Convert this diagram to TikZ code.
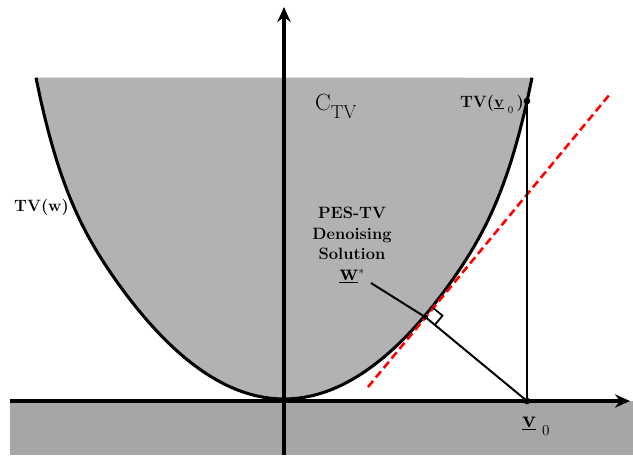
\documentclass[tikz,border=0pt]{standalone}
\usetikzlibrary{arrows.meta,calc}
\tikzset{
	axis/.style = {line width = 2.6pt, -{Stealth[length = 4.5mm, width = 4mm]}},
	bdry/.style = {line width = 2.6pt},
	thinline/.style = {line width = 1.7pt},
	tangent/.style = {red, line width = 2.2pt, dash pattern = on 2.4mm off 1.3mm},
	lbl/.style = {font = \fontsize{14}{17.5}\selectfont\bfseries, inner sep = 0pt}
}
% TV(w) boundary: quadratic near the origin, steeper towards the top
\newcommand{\tvcurve}{plot [domain = -24.8:24.8, samples = 121, smooth] (284+10*\x, {399-0.42*\x*\x-0.0105*max(0,abs(\x)-16)^4})}
\begin{document}
\begin{tikzpicture}[x = 0.3mm, y = -0.3mm]
	\useasboundingbox (0,0) rectangle (633,455);
	% shaded half plane and epigraph
	\fill [black!35] (10,401) rectangle (633,455);
	\fill [black!30] \tvcurve -- cycle;
	\draw [bdry] \tvcurve;
	% key points
	\coordinate (v0) at (527,401);
	\coordinate (tv0) at (527,101);
	\coordinate (r1) at (368,387);
	\coordinate (r2) at (610,94);
	\coordinate (ws) at ($(r1)!(v0)!(r2)$);
	\coordinate (wlbl) at (371,283);
	\coordinate (sq1) at ($(ws)!3.6mm!(r2)$);
	\coordinate (sq3) at ($(ws)!3.6mm!(v0)$);
	% axes
	\draw [axis] (10,401) -- (630,401);
	\draw [axis] (284,455) -- (284,7);
	\draw [tangent] (r1) -- (r2);
	\draw [thinline] (v0) -- (tv0);
	\draw [thinline] (v0) -- (ws) -- (wlbl);
	\draw [line width = 1.5pt] (sq1) -- ($(sq1)+(sq3)-(ws)$) -- (sq3);
	\fill (v0) circle (1mm);
	\fill (tv0) circle (1mm);
	\fill (ws) circle (0.7mm);
	% labels
	\node [anchor = base west, inner sep = 0pt] (ctv) at (315,110) {\fontsize{20}{22}\selectfont C\raisebox{-2.4mm}{\fontsize{16}{18}\selectfont TV}};
	\node [lbl, anchor = base west] (tvw) at (14,211) {TV(w)};
	\node [lbl, align = center, anchor = north] (pes) at (352,207) {PES-TV\\Denoising\\Solution\\{\fontsize{20}{20}\selectfont\underline{w}}$^{*}$};
	\node [lbl, anchor = base east] (tvv) at (524,107) {TV(\underline{v}\hspace{1.2mm}\raisebox{-2mm}{\fontsize{9}{10}\selectfont\mdseries 0}\hspace{1mm})};
	\node [anchor = base west, inner sep = 0pt] (v0lbl) at (522,427) {\fontsize{20}{20}\selectfont\bfseries\underline{v}\hspace{1.8mm}\raisebox{-2.4mm}{\fontsize{13}{15}\selectfont\mdseries 0}};
\end{tikzpicture}
\end{document}
